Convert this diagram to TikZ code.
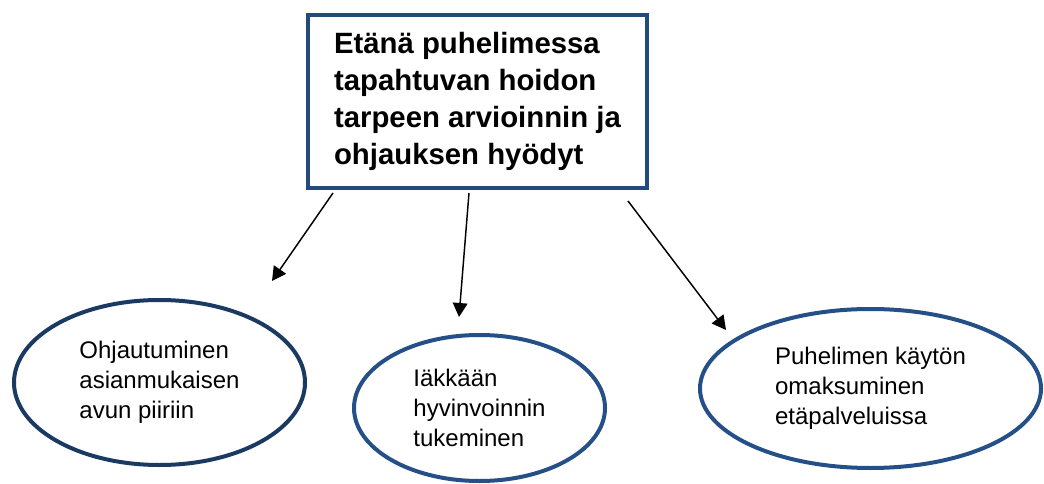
\documentclass[tikz,border=0pt]{standalone}
\usepackage{fontspec}
\setmainfont{Liberation Sans}
\usetikzlibrary{shapes.geometric,arrows.meta}
\definecolor{boxblue}{RGB}{35,73,125}
\definecolor{ellblueA}{RGB}{27,58,99}
\definecolor{ellblueB}{RGB}{37,80,135}
\tikzset{
  mainbox/.style={draw=boxblue, line width=3.4pt, rectangle, inner sep=0pt, align=left,
    font=\fontsize{22}{27.75}\selectfont\bfseries},
  ellnode/.style={ellipse, line width=3pt, inner sep=0pt, align=left,
    font=\fontsize{18}{22.5}\selectfont},
  conn/.style={line width=1.1pt, -{Triangle[length=10.5pt,width=11pt]}}
}
\begin{document}
\begin{tikzpicture}[x=0.75pt,y=-0.75pt]
\useasboundingbox (0,0) rectangle (1044,484);
\node[mainbox, minimum width=254.25pt, minimum height=129.75pt] (box) at (477.5,101.5)
  {Etänä puhelimessa\\tapahtuvan hoidon\\tarpeen arvioinnin ja\\ohjauksen hyödyt};
\node[ellnode, draw=ellblueA, minimum width=218.25pt, minimum height=123.75pt] (e1) at (159.5,382.5)
  {Ohjautuminen\\asianmukaisen\\avun piiriin};
\node[ellnode, draw=ellblueB, minimum width=188.25pt, minimum height=109.5pt] (e2) at (479.5,408)
  {Iäkkään\\hyvinvoinnin\\tukeminen};
\node[ellnode, draw=ellblueB, minimum width=255.75pt, minimum height=119.25pt] (e3) at (870.5,388.5)
  {Puhelimen käytön\\omaksuminen\\etäpalveluissa};
\coordinate (s1) at (333,193);
\coordinate (t1) at (272,281);
\coordinate (s2) at (469,193);
\coordinate (t2) at (459,317);
\coordinate (s3) at (628,201);
\coordinate (t3) at (726,330);
\draw[conn] (s1) -- (t1);
\draw[conn] (s2) -- (t2);
\draw[conn] (s3) -- (t3);
\end{tikzpicture}
\end{document}
